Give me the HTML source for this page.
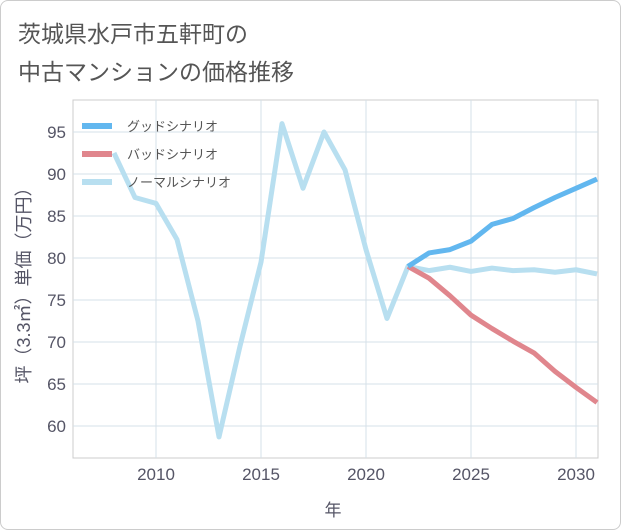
<!DOCTYPE html>
<html><head><meta charset="utf-8"><style>
body{margin:0;background:#fff;}
#wrap{position:relative;width:619px;height:528px;border:1px solid #ccc;border-radius:8px;overflow:hidden;font-family:"Liberation Sans","Noto Sans CJK JP",sans-serif;}
.title{position:absolute;left:17px;font-size:23px;color:#555;}
</style></head><body>
<div id="wrap">
<div class="title" style="top:14px">茨城県水戸市五軒町の</div>
<div class="title" style="top:52px">中古マンションの価格推移</div>
<svg id="chart" width="621" height="530" style="position:absolute;left:-1px;top:-1px"></svg>
</div>
<script>
const years=[2008,2009,2010,2011,2012,2013,2014,2015,2016,2017,2018,2019,2020,2021,2022,2023,2024,2025,2026,2027,2028,2029,2030,2031];
const normalVals=[92.5,87.2,86.5,82.2,72.5,58.7,69.5,79.5,96,88.3,95,90.5,81,72.8,79,78.5,78.9,78.4,78.8,78.5,78.6,78.3,78.6,78.1];
const futureYears=[2022,2023,2024,2025,2026,2027,2028,2029,2030,2031];
const goodVals=[79,80.6,81,82,84,84.7,86,87.2,88.3,89.4];
const badVals=[79,77.6,75.5,73.2,71.6,70.1,68.7,66.5,64.6,62.8];
const xTicks=[2010,2015,2020,2025,2030];
const yTicks=[60,65,70,75,80,85,90,95];
const L=73,R=598,T=100,B=458;
const X=y=>72+(y-2006)*21;
const Y=v=>426-(v-60)*8.4;
const svg=document.getElementById('chart');
const NS='http://www.w3.org/2000/svg';
function mk(t,a){const e=document.createElementNS(NS,t);for(const k in a)e.setAttribute(k,a[k]);svg.appendChild(e);return e;}
const bg=mk('rect',{x:L,y:T,width:R-L,height:B-T,fill:'#fff',stroke:'#ccc'});


xTicks.forEach(t=>{
const g=mk('line',{x1:X(t),x2:X(t),y1:T,y2:B,stroke:'#d5e0e8'});


const l=mk('text',{x:X(t),y:B+22,'text-anchor':'middle','font-size':17,fill:'#556'});l.textContent=t;


});
yTicks.forEach(t=>{
const g=mk('line',{x1:L,x2:R,y1:Y(t),y2:Y(t),stroke:'#d5e0e8'});


const l=mk('text',{x:66,y:Y(t)+6,'text-anchor':'end','font-size':17,fill:'#556'});l.textContent=t;


});
function line(xs,vs,color,name){
const p=mk('polyline',{points:xs.map((y,i)=>X(y)+','+Y(vs[i])).join(' '),fill:'none',stroke:color,'stroke-width':5,'stroke-linejoin':'round'});


}
line(years,normalVals,'#b8dff0','normal-scenario-line');
line(futureYears,badVals,'#e0868d','bad-scenario-line');
line(futureYears,goodVals,'#62b7ef','good-scenario-line');
const leg=[['グッドシナリオ','#62b7ef'],['バッドシナリオ','#e0868d'],['ノーマルシナリオ','#b8dff0']];
leg.forEach((d,i)=>{
const y=126+i*28;
const s=mk('line',{x1:82,x2:112,y1:y,y2:y,stroke:d[1],'stroke-width':6});


const t=mk('text',{x:127,y:y+5,'font-size':13,fill:'#555'});t.textContent=d[0];


});
const xt=mk('text',{x:333,y:516,'text-anchor':'middle','font-size':17,fill:'#556'});xt.textContent='年';


const yt=mk('text',{x:0,y:0,'text-anchor':'middle','font-size':18,fill:'#556',transform:'translate(30,281) rotate(-90)'});yt.textContent='坪（3.3㎡）単価（万円）';


</script>
</body></html>
